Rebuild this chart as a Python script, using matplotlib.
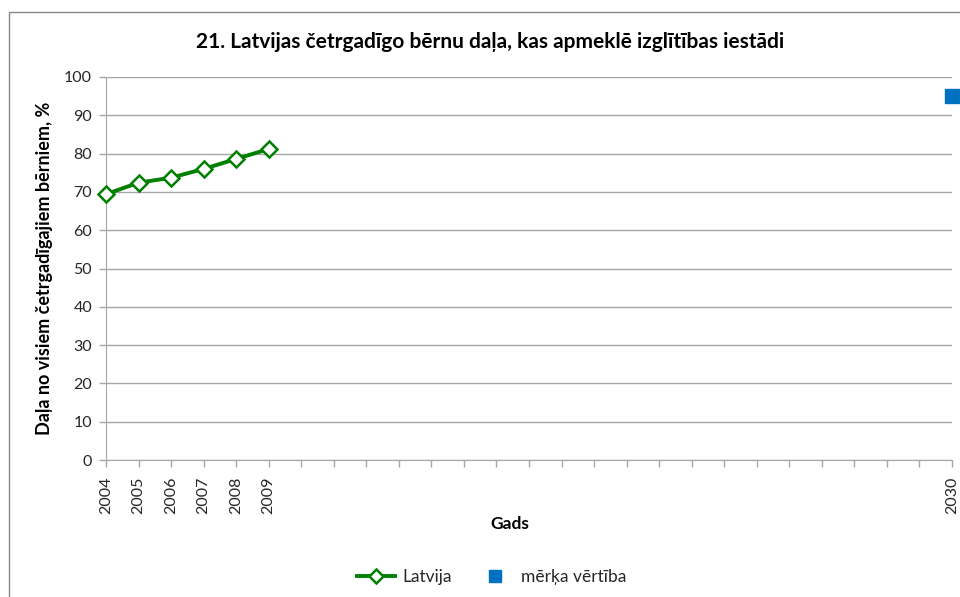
import matplotlib
matplotlib.use("Agg")
import matplotlib.pyplot as plt
from matplotlib.patches import Rectangle

# data
years = [2004, 2005, 2006, 2007, 2008, 2009]
latvija = [69.4, 72.4, 73.7, 76.0, 78.6, 81.2]
target_year = [2030]
target_value = [95]
axis_years = list(range(2004, 2031))
labelled_years = years + target_year

GREEN = "#008000"
BLUE = "#0070C0"
GRID = "#a6a6a6"
TEXT = "#262626"

plt.rcParams["font.family"] = ["Lato", "DejaVu Sans"]

W, H = 960, 597
fig = plt.figure(figsize=(W / 100, H / 100), dpi=100)
fig.patch.set_facecolor("white")

# outer chart frame (right and bottom edges fall outside the crop)
fig.patches.append(Rectangle((9 / W, -0.1), 1.1, 1 - 12 / H + 0.1,
                             transform=fig.transFigure, fill=False,
                             edgecolor="#868686", linewidth=1.0))

ax = fig.add_axes([106 / W, (H - 460) / H, (952 - 106) / W, (460 - 77) / H])
ax.set_xlim(2004, 2030)
ax.set_ylim(0, 100)

ax.plot(years, latvija, color=GREEN, linewidth=2.8, marker="D", markersize=8,
        markerfacecolor="white", markeredgecolor=GREEN, markeredgewidth=1.8,
        label="Latvija", clip_on=False, zorder=3)
ax.plot(target_year, target_value, linestyle="none", marker="s", markersize=10,
        color=BLUE, label="mērķa vērtība", clip_on=False, zorder=3)

ax.set_yticks(range(0, 101, 10))
ax.set_xticks(axis_years)
ax.set_xticklabels([str(y) if y in labelled_years else "" for y in axis_years],
                   rotation=90)
ax.yaxis.grid(True, color=GRID, linewidth=1)
ax.set_axisbelow(True)
for side in ["top", "right"]:
    ax.spines[side].set_visible(False)
for side in ["left", "bottom"]:
    ax.spines[side].set_color(GRID)
ax.tick_params(axis="both", colors=GRID, labelcolor=TEXT, labelsize=11.5,
               length=5, width=1)
ax.tick_params(axis="x", pad=7)
ax.tick_params(axis="y", pad=5)

fig.text(490 / W, 1 - 42 / H,
         "21. Latvijas četrgadīgo bērnu daļa, kas apmeklē izglītības iestādi",
         ha="center", va="center", fontsize=15, fontweight="bold", color="black")
fig.text(45 / W, 1 - 268 / H, "Daļa no visiem četrgadīgajiem bērniem, %",
         rotation=90, ha="center", va="center", fontsize=13, fontweight="bold",
         color="black")
fig.text(510 / W, 1 - 524 / H, "Gads", ha="center", va="center",
         fontsize=12.5, fontweight="bold", color="black")

fig.legend(loc="center", bbox_to_anchor=(492 / W, 1 - 577 / H), ncol=2,
           frameon=False, fontsize=12.5, handlelength=2.2, handletextpad=0.4,
           columnspacing=1.4, markerscale=0.85, labelcolor=TEXT)

fig.savefig("out.png", dpi=100)
